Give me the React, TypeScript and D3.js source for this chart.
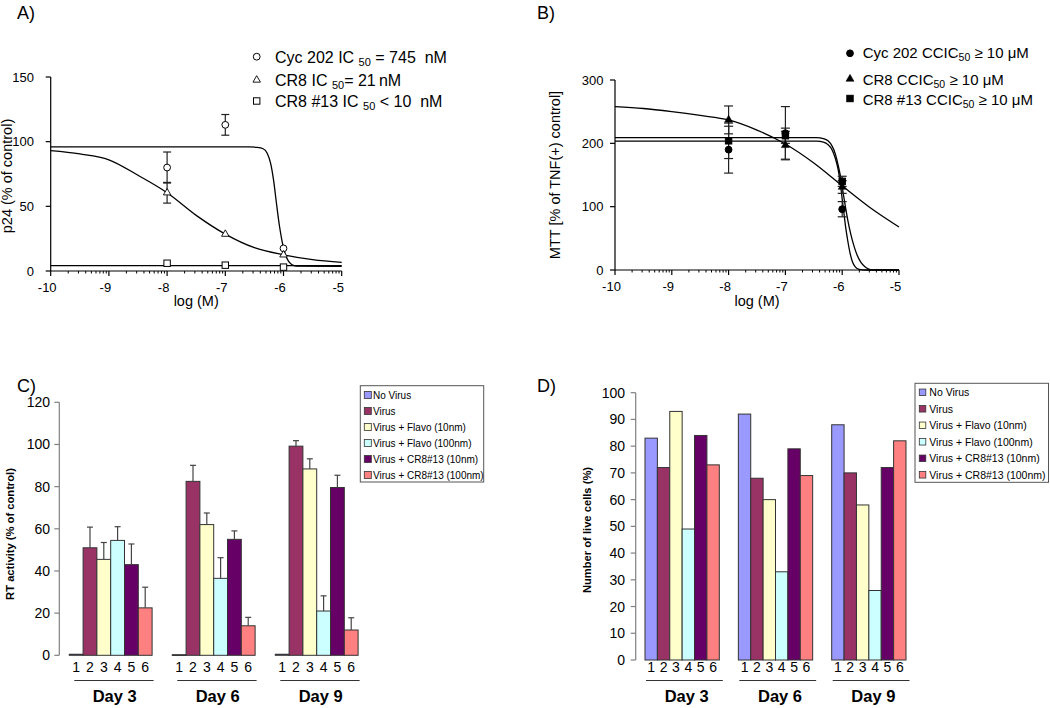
import React from 'react';
import * as d3 from 'd3';

const FONT = "'Liberation Sans', Arial, Helvetica, sans-serif";

// ---------------- Panel A : p24 dose response ----------------
const logDoseTicks = [-10, -9, -8, -7, -6, -5];
const doseLogM = [-8, -7, -6];
const p24Ticks = [0, 50, 100, 150];
const cyc202P24 = [80, 113, 17.5];
const cyc202P24Err = [12, 8, 0];
const cr8P24 = [60.5, 28.5, 12.5];
const cr8P24Err = [8, 0, 0];
const cr813P24 = [6, 4.5, 3];
const cyc202P24Fit: [number, number][] = [
  [-10, 96], [-6.6, 96], [-6.45, 95.6], [-6.35, 94.5], [-6.28, 91], [-6.22, 83], [-6.17, 70],
  [-6.12, 52], [-6.07, 35], [-6.02, 22], [-5.97, 13], [-5.92, 8], [-5.86, 5], [-5.78, 3.8], [-5, 3.6],
];
const cr8P24Fit: [number, number][] = [
  [-10, 93], [-9.5, 90.5], [-9, 86], [-8.5, 74], [-8, 60.5], [-7.5, 43], [-7, 28.5],
  [-6.5, 18], [-6, 12.5], [-5.5, 8.8], [-5, 6.7],
];
const cr813P24Fit: [number, number][] = [[-10, 4.2], [-5, 4.2]];

// ---------------- Panel B : MTT ----------------
const mttTicks = [0, 100, 200, 300];
const cyc202Mtt = [190, 216, 96];
const cyc202MttErr = [37, 42, 12];
const cr8Mtt = [237, 197, 131];
const cr8MttErr = [22, 22, 10];
const cr813Mtt = [204, 212, 140];
const cr813MttErr = [28, 12, 8];
const cr8MttFit: [number, number][] = [
  [-10, 258], [-9.5, 255], [-9, 250], [-8.5, 244], [-8, 237], [-7.5, 221], [-7, 199],
  [-6.5, 169], [-6, 133], [-5.5, 98], [-5, 68],
];
const cyc202MttFit: [number, number][] = [
  [-10, 203.5], [-6.45, 203.5], [-6.33, 202], [-6.25, 198], [-6.18, 190], [-6.12, 176], [-6.07, 158],
  [-6.03, 135], [-6.0, 112], [-5.97, 90], [-5.94, 68], [-5.9, 45], [-5.86, 26], [-5.82, 13],
  [-5.77, 5], [-5.7, 1], [-5.6, 0], [-5, 0],
];
const cr813MttFit: [number, number][] = [
  [-10, 209], [-6.45, 209], [-6.33, 207.5], [-6.25, 204], [-6.18, 196], [-6.12, 183], [-6.07, 165],
  [-6.02, 143], [-5.98, 120], [-5.94, 98], [-5.9, 78], [-5.85, 57], [-5.8, 40], [-5.74, 24],
  [-5.67, 12], [-5.6, 5], [-5.52, 1], [-5.45, 0], [-5, 0],
];

// ---------------- Panels C, D : bars ----------------
const days = ['Day 3', 'Day 6', 'Day 9'];
const treatmentNumbers = ['1', '2', '3', '4', '5', '6'];
const treatments = [
  'No Virus', 'Virus', 'Virus + Flavo (10nm)', 'Virus + Flavo (100nm)',
  'Virus + CR8#13 (10nm)', 'Virus + CR8#13 (100nm)',
];
const treatmentColors = ['#9999FF', '#993366', '#FFFFCC', '#CCFFFF', '#660066', '#FF8080'];

const rtDay3 = [0.5, 51, 45.5, 54.5, 43, 22.5];
const rtDay3Err = [0, 9.8, 8, 6.5, 9.8, 9.8];
const rtDay6 = [0.3, 82.5, 62, 36.5, 55, 14];
const rtDay6Err = [0, 7.6, 5.5, 9.8, 4, 4];
const rtDay9 = [0.5, 99.2, 88.4, 21, 79.6, 12];
const rtDay9Err = [0, 2.6, 4.8, 7.2, 5.8, 5.8];
const rtTicks = [0, 20, 40, 60, 80, 100, 120];

const liveDay3 = [83, 72, 93, 49, 84, 73];
const liveDay6 = [92, 68, 60, 33, 79, 69];
const liveDay9 = [88, 70, 58, 26, 72, 82];
const liveTicks = [0, 10, 20, 30, 40, 50, 60, 70, 80, 90, 100];

type Pt = [number, number];

function DoseAxes(props: {
  xs: d3.ScaleLinear<number, number>; ys: d3.ScaleLinear<number, number>;
  yTicks: number[]; yLabel: string; yLabelX: number; yLabelY: number; xLabelY: number;
  tickLabelRight: number;
}) {
  const { xs, ys, yTicks, yLabel, yLabelX, yLabelY, xLabelY, tickLabelRight } = props;
  const [x0, x1] = xs.range();
  const y0 = ys.range()[0];
  const yTop = ys(yTicks[yTicks.length - 1]);
  const minor: number[] = [];
  for (let d = logDoseTicks[0]; d < logDoseTicks[logDoseTicks.length - 1]; d++) {
    for (let k = 2; k <= 9; k++) minor.push(d + Math.log10(k));
  }
  return (
    <g fontFamily={FONT} fill="#000">
      <line x1={x0} x2={x1} y1={y0} y2={y0} stroke="#000" strokeWidth={1.2} />
      <line x1={x0} x2={x0} y1={y0} y2={yTop} stroke="#000" strokeWidth={1.2} />
      {minor.map((t, i) => (
        <line key={'m' + i} x1={xs(t)} x2={xs(t)} y1={y0} y2={y0 + 2.5} stroke="#000" strokeWidth={1} />
      ))}
      {logDoseTicks.map((t) => (
        <g key={'x' + t}>
          <line x1={xs(t)} x2={xs(t)} y1={y0} y2={y0 + 5} stroke="#000" strokeWidth={1.2} />
          <text x={xs(t) - 3.5} y={y0 + 21} textAnchor="middle" fontSize={13}>{String(t)}</text>
        </g>
      ))}
      {yTicks.map((t) => (
        <g key={'y' + t}>
          <line x1={x0 - 5} x2={x0} y1={ys(t)} y2={ys(t)} stroke="#000" strokeWidth={1.2} />
          <text x={tickLabelRight} y={ys(t) + 4.6} textAnchor="end" fontSize={13}>{String(t)}</text>
        </g>
      ))}
      <text transform={`translate(${yLabelX},${yLabelY}) rotate(-90)`} textAnchor="middle" fontSize={14.5}>
        {yLabel}
      </text>
      <text x={(x0 + x1) / 2} y={xLabelY} textAnchor="middle" fontSize={14.5}>log (M)</text>
    </g>
  );
}

function marker(kind: 'circle' | 'triangle' | 'square', filled: boolean, cx: number, cy: number, key: string) {
  const fill = filled ? '#000' : '#fff';
  if (kind === 'circle') return <circle key={key} cx={cx} cy={cy} r={filled ? 3.4 : 3.4} fill={fill} stroke="#000" strokeWidth={1} />;
  if (kind === 'square') return <rect key={key} x={cx - 3.2} y={cy - 3.2} width={6.4} height={6.4} fill={fill} stroke="#000" strokeWidth={1} />;
  const p = d3.symbol().type(d3.symbolTriangle).size(filled ? 28 : 24)() as string;
  return <path key={key} d={p} transform={`translate(${cx},${cy})`} fill={fill} stroke="#000" strokeWidth={filled ? 0.5 : 0.9} />;
}

function errBars(xs: d3.ScaleLinear<number, number>, ys: d3.ScaleLinear<number, number>, vals: number[], errs: number[], cap: number, key: string) {
  return vals.map((v, i) =>
    errs[i] > 0 ? (
      <g key={key + i} stroke="#222" strokeWidth={1.2}>
        <line x1={xs(doseLogM[i])} x2={xs(doseLogM[i])} y1={ys(v - errs[i])} y2={ys(v + errs[i])} />
        <line x1={xs(doseLogM[i]) - cap} x2={xs(doseLogM[i]) + cap} y1={ys(v - errs[i])} y2={ys(v - errs[i])} />
        <line x1={xs(doseLogM[i]) - cap} x2={xs(doseLogM[i]) + cap} y1={ys(v + errs[i])} y2={ys(v + errs[i])} />
      </g>
    ) : null
  );
}

function PanelA() {
  const xs = d3.scaleLinear().domain([-10, -5]).range([50.7, 341.7]);
  const ys = d3.scaleLinear().domain([0, 150]).range([271, 77]);
  const line = d3.line<Pt>().x((d) => xs(d[0])).y((d) => ys(d[1])).curve(d3.curveMonotoneX);
  const legendRows = [
    { kind: 'circle' as const, y: 56.7, base: 63.3, pre: 'Cyc 202 IC ', post: ' = 745  nM' },
    { kind: 'triangle' as const, y: 80, base: 86, pre: 'CR8 IC ', post: '= 21\u2009nM' },
    { kind: 'square' as const, y: 101, base: 107.3, pre: 'CR8 #13 IC ', post: ' < 10  nM' },
  ];
  return (
    <g>
      <text x={17} y={19} fontFamily={FONT} fontSize={18}>A)</text>
      <DoseAxes xs={xs} ys={ys} yTicks={p24Ticks} yLabel="p24 (% of control)" yLabelX={12} yLabelY={176}
        xLabelY={306} tickLabelRight={34} />
      <g fill="none" stroke="#000" strokeWidth={1.3}>
        <path d={line(cyc202P24Fit) as string} />
        <path d={line(cr8P24Fit) as string} />
        <path d={line(cr813P24Fit) as string} />
      </g>
      {errBars(xs, ys, cyc202P24, cyc202P24Err, 4, 'ea1')}
      {errBars(xs, ys, cr8P24, cr8P24Err, 4, 'ea2')}
      {cyc202P24.map((v, i) => marker('circle', false, xs(doseLogM[i]), ys(v), 'ac' + i))}
      {cr8P24.map((v, i) => marker('triangle', false, xs(doseLogM[i]), ys(v), 'at' + i))}
      {cr813P24.map((v, i) => marker('square', false, xs(doseLogM[i]), ys(v), 'as' + i))}
      {legendRows.map((r, i) => (
        <g key={'la' + i}>
          {marker(r.kind, false, 256.7, r.y, 'lam' + i)}
          <text x={275} y={r.base} fontFamily={FONT} fontSize={16} style={{ whiteSpace: 'pre' }}>
            {r.pre}
            <tspan fontSize={11} dy={3}>50</tspan>
            <tspan dy={-3}>{r.post}</tspan>
          </text>
        </g>
      ))}
    </g>
  );
}

function PanelB() {
  const xs = d3.scaleLinear().domain([-10, -5]).range([615, 899]);
  const ys = d3.scaleLinear().domain([0, 300]).range([270, 80]);
  const line = d3.line<Pt>().x((d) => xs(d[0])).y((d) => ys(d[1])).curve(d3.curveMonotoneX);
  const legendRows = [
    { kind: 'circle' as const, y: 53.3, base: 58.3, pre: 'Cyc 202 CCIC', post: ' \u2265 10 \u03bcM' },
    { kind: 'triangle' as const, y: 79, base: 85, pre: 'CR8 CCIC', post: ' \u2265 10 \u03bcM' },
    { kind: 'square' as const, y: 98.5, base: 105, pre: 'CR8 #13 CCIC', post: ' \u2265 10 \u03bcM' },
  ];
  return (
    <g>
      <text x={537} y={19} fontFamily={FONT} fontSize={18}>B)</text>
      <DoseAxes xs={xs} ys={ys} yTicks={mttTicks} yLabel="MTT [% of TNF(+) control]" yLabelX={559.5} yLabelY={175}
        xLabelY={306} tickLabelRight={603.5} />
      <g fill="none" stroke="#000" strokeWidth={1.3}>
        <path d={line(cr8MttFit) as string} />
        <path d={line(cyc202MttFit) as string} />
        <path d={line(cr813MttFit) as string} />
      </g>
      {errBars(xs, ys, cyc202Mtt, cyc202MttErr, 4.5, 'eb1')}
      {errBars(xs, ys, cr8Mtt, cr8MttErr, 4.5, 'eb2')}
      {errBars(xs, ys, cr813Mtt, cr813MttErr, 4.5, 'eb3')}
      {cr8Mtt.map((v, i) => marker('triangle', true, xs(doseLogM[i]), ys(v), 'bt' + i))}
      {cyc202Mtt.map((v, i) => marker('circle', true, xs(doseLogM[i]), ys(v), 'bc' + i))}
      {cr813Mtt.map((v, i) => marker('square', true, xs(doseLogM[i]), ys(v), 'bs' + i))}
      {legendRows.map((r, i) => (
        <g key={'lb' + i}>
          {marker(r.kind, true, 850, r.y, 'lbm' + i)}
          <text x={862.7} y={r.base} fontFamily={FONT} fontSize={15} style={{ whiteSpace: 'pre' }}>
            {r.pre}
            <tspan fontSize={10.5} dy={3}>50</tspan>
            <tspan dy={-3}>{r.post}</tspan>
          </text>
        </g>
      ))}
    </g>
  );
}

function BarPanel(props: {
  label: string; labelX: number; series: number[][]; errs?: number[][];
  ys: d3.ScaleLinear<number, number>; xRange: [number, number]; padIn: number; padOut: number;
  yTicks: number[]; yLabel: string; yLabelX: number; yLabelY: number; tickRight: number;
  ulStart: number; ulEnd: number; dayShift: number;
  legend: { x0: number; x1: number; y0: number; y1: number; row0: number; rowStep: number; sw: number; swX: number; textX: number; fs: number };
}) {
  const p = props;
  const xDay = d3.scaleBand<string>().domain(days).range(p.xRange).paddingInner(p.padIn).paddingOuter(p.padOut);
  const xBar = d3.scaleBand<string>().domain(treatmentNumbers).range([0, xDay.bandwidth()]).padding(0);
  const axisX = p.xRange[0];
  const y0 = p.ys(0);
  const yTop = p.ys(p.yTicks[p.yTicks.length - 1]);
  const L = p.legend;
  return (
    <g fontFamily={FONT}>
      <text x={p.labelX} y={392} fontSize={18}>{p.label}</text>
      <line x1={axisX} x2={axisX} y1={y0} y2={yTop} stroke="#808080" strokeWidth={1.2} />
      {p.yTicks.map((t) => (
        <g key={'t' + t}>
          <line x1={axisX - 5} x2={axisX} y1={p.ys(t)} y2={p.ys(t)} stroke="#808080" strokeWidth={1.2} />
          <text x={p.tickRight} y={p.ys(t) + 5} textAnchor="end" fontSize={14}>{String(t)}</text>
        </g>
      ))}
      <text transform={`translate(${p.yLabelX},${p.yLabelY}) rotate(-90)`} textAnchor="middle" fontSize={11.2} fontWeight="bold">
        {p.yLabel}
      </text>
      {days.map((day, di) => {
        const gx = xDay(day) as number;
        return (
          <g key={day}>
            {p.series[di].map((v, bi) => {
              const bx = gx + (xBar(treatmentNumbers[bi]) as number);
              const bw = xBar.bandwidth();
              const top = p.ys(v);
              const e = p.errs ? p.errs[di][bi] : 0;
              return (
                <g key={bi}>
                  <rect x={bx} y={top} width={bw} height={Math.max(y0 - top, 0.8)} fill={treatmentColors[bi]} stroke="#333" strokeWidth={1} />
                  {e > 0 && (
                    <g stroke="#444" strokeWidth={1.2}>
                      <line x1={bx + bw / 2} x2={bx + bw / 2} y1={top} y2={p.ys(v + e)} />
                      <line x1={bx + bw / 2 - 3} x2={bx + bw / 2 + 3} y1={p.ys(v + e)} y2={p.ys(v + e)} />
                    </g>
                  )}
                  <text x={bx + bw / 2} y={671.7} textAnchor="middle" fontSize={14}>{treatmentNumbers[bi]}</text>
                </g>
              );
            })}
            <line x1={gx + p.ulStart} x2={gx + xDay.bandwidth() + p.ulEnd} y1={680.5} y2={680.5} stroke="#333" strokeWidth={1.2} />
            <text x={gx + xDay.bandwidth() / 2 + p.dayShift} y={702} textAnchor="middle" fontSize={16.5} fontWeight="bold">{day}</text>
          </g>
        );
      })}
      <rect x={L.x0} y={L.y0} width={L.x1 - L.x0} height={L.y1 - L.y0} fill="#fff" stroke="#555" strokeWidth={1} />
      {treatments.map((t, i) => {
        const cy = L.row0 + i * L.rowStep;
        return (
          <g key={'lg' + i}>
            <rect x={L.swX} y={cy - L.sw / 2} width={L.sw} height={L.sw} fill={treatmentColors[i]} stroke="#333" strokeWidth={0.8} />
            <text x={L.textX} y={cy + L.fs * 0.37} fontSize={L.fs}>{t}</text>
          </g>
        );
      })}
    </g>
  );
}

export default function App() {
  const ysC = d3.scaleLinear().domain([0, 120]).range([655.3, 402.3]);
  const ysD = d3.scaleLinear().domain([0, 100]).range([660, 392.7]);
  return (
    <svg width={1050} height={708} viewBox="0 0 1050 708"
      style={{ position: 'absolute', left: 0, top: 0, background: '#fff', display: 'block' }}>
      <rect x={0} y={0} width={1050} height={708} fill="#fff" />
      <PanelA />
      <PanelB />
      <BarPanel label="C)" labelX={17} series={[rtDay3, rtDay6, rtDay9]} errs={[rtDay3Err, rtDay6Err, rtDay9Err]}
        ys={ysC} xRange={[59.3, 368.1]} padIn={0.196} padOut={0.097} yTicks={rtTicks}
        yLabel="RT activity (% of control)" yLabelX={13.5} yLabelY={534} tickRight={50}
        ulStart={5} ulEnd={1.5} dayShift={4}
        legend={{ x0: 360.3, x1: 483.7, y0: 385.7, y1: 482, row0: 395, rowStep: 16, sw: 7, swX: 364.3, textX: 373, fs: 10 }} />
      <BarPanel label="D)" labelX={537} series={[liveDay3, liveDay6, liveDay9]}
        ys={ysD} xRange={[635.7, 915.3]} padIn={0.204} padOut={0.0996} yTicks={liveTicks}
        yLabel="Number of live cells (%)" yLabelX={590.5} yLabelY={530} tickRight={625}
        ulStart={1} ulEnd={3.5} dayShift={4.5}
        legend={{ x0: 915, x1: 1048.5, y0: 383.3, y1: 482.3, row0: 392.3, rowStep: 16.5, sw: 6.5, swX: 919.3, textX: 929.3, fs: 10.5 }} />
    </svg>
  );
}
